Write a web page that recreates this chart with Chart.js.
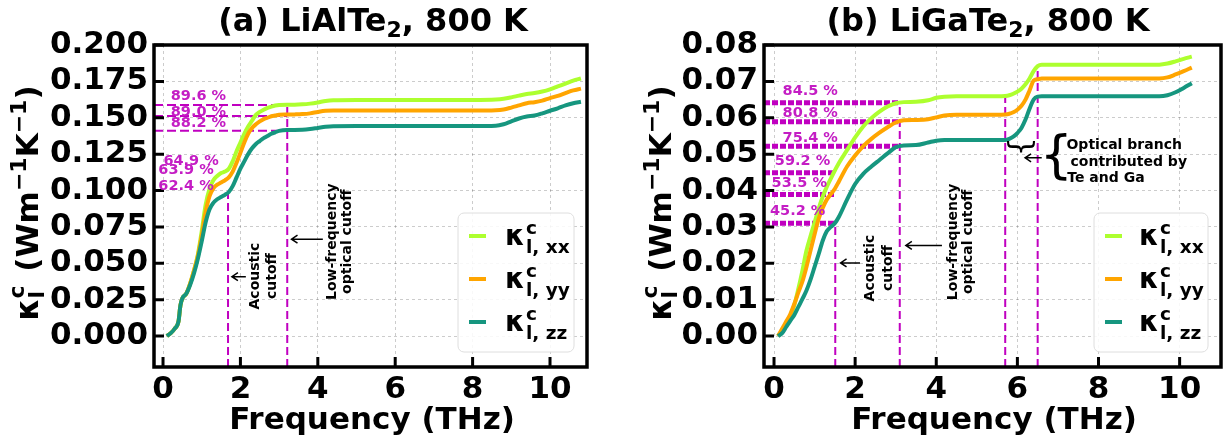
<!DOCTYPE html>
<html>
<head>
<meta charset="utf-8">
<script src="https://cdn.jsdelivr.net/npm/chart.js@4.4.0/dist/chart.umd.min.js"></script>
<style>
  body { margin: 0; background: #fff; }
  #fig { position: relative; width: 1225px; height: 440px; overflow: hidden; }
  #fig canvas { position: absolute; top: 0; }
</style>
</head>
<body>
<div id="fig">
  <canvas id="panelA" width="605" height="440" style="left:0"></canvas>
  <canvas id="panelB" width="620" height="440" style="left:605px"></canvas>
</div>
<script>
// ---- data ----
const xTicks = [0, 2, 4, 6, 8, 10];
const yTicksA = [0, 0.025, 0.05, 0.075, 0.1, 0.125, 0.15, 0.175, 0.2];
const yTicksB = [0, 0.01, 0.02, 0.03, 0.04, 0.05, 0.06, 0.07, 0.08];
const legendKeys = ['xx', 'yy', 'zz'];

// (a) LiAlTe2, cumulative kappa vs frequency
const freqA = [0.1, 0.2, 0.3, 0.4, 0.45, 0.5, 0.6, 0.7, 0.8, 0.9,
  1.0, 1.1, 1.2, 1.3, 1.4, 1.5, 1.6, 1.7, 1.8, 1.9,
  2.0, 2.1, 2.2, 2.3, 2.4, 2.5, 2.6, 2.7, 2.8, 2.9,
  3.0, 3.2, 3.4, 3.6, 3.8, 4.0, 4.2, 4.4, 5.0, 6.0, 7.0, 8.0,
  8.6, 8.8, 9.0, 9.2, 9.4, 9.6, 9.8, 10.0, 10.2, 10.4, 10.6, 10.8];
const kxxA = [0.000, 0.002, 0.005, 0.010, 0.021, 0.026, 0.029, 0.036, 0.045, 0.056,
  0.072, 0.090, 0.101, 0.107, 0.110, 0.112, 0.113, 0.115, 0.120, 0.127,
  0.133, 0.139, 0.144, 0.148, 0.152, 0.154, 0.1555, 0.1568, 0.1577, 0.1584,
  0.1588, 0.1590, 0.1590, 0.1592, 0.1597, 0.1605, 0.1615, 0.1620, 0.1622, 0.1622, 0.1622, 0.1622,
  0.1625, 0.1630, 0.1640, 0.1652, 0.1663, 0.1670, 0.1680, 0.1695, 0.1715, 0.1735, 0.1755, 0.1770];
const kyyA = [0.000, 0.002, 0.005, 0.010, 0.021, 0.026, 0.029, 0.036, 0.045, 0.055,
  0.069, 0.085, 0.096, 0.1015, 0.104, 0.1055, 0.107, 0.109, 0.113, 0.119,
  0.126, 0.133, 0.139, 0.143, 0.1455, 0.1475, 0.149, 0.150, 0.151, 0.1515,
  0.152, 0.1522, 0.1523, 0.1525, 0.153, 0.154, 0.1548, 0.155, 0.155, 0.155, 0.155, 0.155,
  0.1552, 0.1557, 0.157, 0.1585, 0.160, 0.1607, 0.1618, 0.1635, 0.165, 0.167, 0.1688, 0.170];
const kzzA = [0.000, 0.002, 0.005, 0.010, 0.021, 0.026, 0.029, 0.035, 0.043, 0.053,
  0.065, 0.078, 0.087, 0.0915, 0.094, 0.0955, 0.097, 0.099, 0.103, 0.109,
  0.115, 0.120, 0.125, 0.129, 0.132, 0.134, 0.136, 0.1375, 0.139, 0.140,
  0.141, 0.1416, 0.1416, 0.1417, 0.1422, 0.143, 0.1438, 0.1442, 0.1443, 0.1443, 0.1443, 0.1443,
  0.1445, 0.1455, 0.1475, 0.1495, 0.1508, 0.1515, 0.153, 0.1548, 0.1565, 0.1585, 0.160, 0.161];

// (b) LiGaTe2
const freqB = [0.1, 0.2, 0.3, 0.4, 0.5, 0.6, 0.7, 0.8, 0.9, 1.0,
  1.1, 1.2, 1.3, 1.4, 1.5, 1.6, 1.8, 2.0, 2.2, 2.4,
  2.6, 2.8, 3.0, 3.2, 3.5, 3.8, 4.0, 4.2, 4.5, 5.0,
  5.5, 5.7, 5.8, 5.9, 6.0, 6.1, 6.2, 6.3, 6.4, 6.5,
  6.6, 7.0, 8.0, 9.0, 9.5, 9.7, 9.9, 10.1, 10.3];
const kxxB = [0.0000, 0.0015, 0.0035, 0.0055, 0.0085, 0.0130, 0.0180, 0.0235, 0.0275, 0.0312,
  0.0350, 0.0383, 0.0410, 0.0433, 0.0455, 0.0476, 0.0511, 0.0546, 0.0576, 0.0599,
  0.0617, 0.0631, 0.0640, 0.0643, 0.0644, 0.0648, 0.0655, 0.0658, 0.0659, 0.0659,
  0.0659, 0.0660, 0.0662, 0.0666, 0.0672, 0.0680, 0.0692, 0.0708, 0.0728, 0.0742,
  0.0746, 0.0746, 0.0746, 0.0746, 0.0746, 0.0749, 0.0755, 0.0762, 0.0768];
const kyyB = [0.0000, 0.0020, 0.0040, 0.0060, 0.0088, 0.0120, 0.0150, 0.0190, 0.0235, 0.0280,
  0.0322, 0.0352, 0.0375, 0.0390, 0.0405, 0.0425, 0.0466, 0.0496, 0.0522, 0.0542,
  0.0559, 0.0574, 0.0587, 0.0593, 0.0594, 0.0596, 0.0601, 0.0606, 0.0608, 0.0608,
  0.0608, 0.0609, 0.0611, 0.0615, 0.0622, 0.0633, 0.0650, 0.0675, 0.0702, 0.0706,
  0.0708, 0.0708, 0.0708, 0.0708, 0.0708, 0.0711, 0.0719, 0.0728, 0.0738];
const kzzB = [0.0000, 0.0008, 0.0025, 0.0042, 0.0058, 0.0080, 0.0102, 0.0125, 0.0155, 0.0190,
  0.0225, 0.0262, 0.0288, 0.0300, 0.0310, 0.0328, 0.0375, 0.0418, 0.0446, 0.0466,
  0.0484, 0.0502, 0.0519, 0.0524, 0.0525, 0.0532, 0.0537, 0.0539, 0.0539, 0.0539,
  0.0539, 0.0539, 0.0542, 0.0548, 0.0558, 0.0572, 0.0595, 0.0625, 0.0650, 0.0658,
  0.0659, 0.0659, 0.0659, 0.0659, 0.0659, 0.0662, 0.0670, 0.0682, 0.0695];

// cutoffs (THz) and where the dashed markers end
const cutoffsA = [1.68, 3.21];
const cutoffTopsA = [0.099, 0.1588];
const opticalLevelsA = [0.1588, 0.1512, 0.1411];
const shareTextA = ['89.6 %', '89.0 %', '88.2 %', '64.9 %', '63.9 %', '62.4 %'];

const cutoffsB = [1.51, 3.1, 5.7, 6.5];
const cutoffTopsB = [0.031, 0.0641, 0.0658, 0.0744];
const opticalLevelsB = [0.0641, 0.0589, 0.0522];
const acousticLevelsB = [0.0449, 0.0389, 0.031];
const shareTextB = ['84.5 %', '80.8 %', '75.4 %', '59.2 %', '53.5 %', '45.2 %'];

// ---- styling ----
const FAMILY = '"DejaVu Sans", sans-serif';
const MAGENTA = '#c000c0';
const LABEL_MAGENTA = '#c41dc4';
const COLORS = ['#adff2f', '#ffa500', '#16967f'];
const GRID = 'rgba(0,0,0,0.2)';

const font = (size, weight = 'bold') => `${weight} ${size}px ${FAMILY}`;

function partWidth(ctx, p) {
  ctx.font = font(p.size);
  if (p.stack) return Math.max(...p.stack.map(s => ctx.measureText(s).width));
  return ctx.measureText(p.t).width;
}

// draws text made of pieces with their own size / baseline shift
function drawRich(ctx, parts, x, y, align) {
  const total = parts.reduce((s, p) => s + partWidth(ctx, p) + (p.gap || 0), 0);
  let cx = align === 'center' ? x - total / 2 : x;
  ctx.textAlign = 'left';
  ctx.textBaseline = 'alphabetic';
  parts.forEach(p => {
    ctx.font = font(p.size);
    if (p.stack) {
      ctx.fillText(p.stack[0], cx, y + p.up);
      ctx.fillText(p.stack[1], cx, y + p.down);
    } else {
      ctx.fillText(p.t, cx, y + (p.dy || 0));
    }
    cx += partWidth(ctx, p) + (p.gap || 0);
  });
}

// left-pointing arrow with an open head
function arrow(ctx, x1, x2, y) {
  ctx.save();
  ctx.strokeStyle = '#000';
  ctx.lineWidth = 1.5;
  ctx.beginPath();
  ctx.moveTo(x1, y); ctx.lineTo(x2, y);
  ctx.moveTo(x2 + 6, y - 4); ctx.lineTo(x2, y); ctx.lineTo(x2 + 6, y + 4);
  ctx.stroke();
  ctx.restore();
}

const yTitle = [
  { t: 'κ', size: 31 },
  { stack: ['c', 'l'], size: 22, up: -14, down: 6, gap: 3 },
  { t: ' (Wm', size: 31 },
  { t: '−1', size: 22, dy: -12 },
  { t: 'K', size: 31 },
  { t: '−1', size: 22, dy: -12 },
  { t: ')', size: 31 }
];

function drawLegend(ctx, chart, spec) {
  const a = chart.chartArea;
  const w = spec.legendW, h = 139;
  const bx = a.right - 13 - w, by = a.top + 168;
  ctx.save();
  ctx.beginPath();
  ctx.roundRect(bx, by, w, h, 6);
  ctx.fillStyle = 'rgba(255,255,255,0.85)';
  ctx.fill();
  ctx.strokeStyle = '#dedede';
  ctx.lineWidth = 1;
  ctx.stroke();
  const curves = chart.data.datasets.filter(d => d.kappa);
  curves.forEach((d, i) => {
    const ry = by + 23 + i * 43;
    ctx.strokeStyle = d.borderColor;
    ctx.lineWidth = 4;
    ctx.beginPath();
    ctx.moveTo(bx + 11, ry); ctx.lineTo(bx + 28, ry);
    ctx.stroke();
    ctx.fillStyle = '#000';
    drawRich(ctx, [
      { t: 'κ', size: 28, gap: 1 },
      { stack: ['c', 'l, ' + d.label], size: 18.5, up: -11, down: 8 }
    ], bx + spec.legendText, ry + 9);
  });
  ctx.restore();
}

function decor(spec) {
  return {
    id: 'decor',
    afterDatasetsDraw(chart) {
      const { ctx, chartArea: a, scales: { x, y } } = chart;
      const px = v => x.getPixelForValue(v);
      const py = v => y.getPixelForValue(v);
      ctx.save();
      ctx.strokeStyle = '#000';
      ctx.lineWidth = 3.5;
      ctx.strokeRect(a.left, a.top, a.right - a.left, a.bottom - a.top);
      // inward tick marks
      ctx.lineWidth = 3;
      ctx.beginPath();
      x.ticks.forEach(t => { ctx.moveTo(px(t.value), a.bottom); ctx.lineTo(px(t.value), a.bottom - 10); });
      y.ticks.forEach(t => { ctx.moveTo(a.left, py(t.value)); ctx.lineTo(a.left + 10, py(t.value)); });
      ctx.stroke();

      // percentage labels
      ctx.fillStyle = LABEL_MAGENTA;
      ctx.font = font(14.5);
      ctx.textAlign = 'left';
      ctx.textBaseline = 'middle';
      spec.shareText.forEach((txt, i) => {
        const p = spec.sharePos[i];
        ctx.fillText(txt, px(p[0]), py(p[1]));
      });

      // rotated cutoff notes
      ctx.fillStyle = '#000';
      ctx.font = font(14);
      ctx.textAlign = 'center';
      spec.notes.forEach(n => {
        ctx.save();
        ctx.translate(px(n.x), py(n.y));
        ctx.rotate(-Math.PI / 2);
        n.lines.forEach((s, i) => ctx.fillText(s, 0, (i - (n.lines.length - 1) / 2) * n.gap));
        ctx.restore();
      });
      spec.arrows.forEach(r => arrow(ctx, px(r.x1), px(r.x2), py(r.y)));
      if (spec.extra) spec.extra(ctx, px, py);
      drawLegend(ctx, chart, spec);
      ctx.restore();
    },
    afterDraw(chart) {
      const ctx = chart.ctx;
      ctx.save();
      ctx.fillStyle = '#000';
      drawRich(ctx, spec.title, spec.titleX, 31, 'center');
      ctx.font = font(31);
      ctx.textAlign = 'center';
      ctx.textBaseline = 'alphabetic';
      ctx.fillText('Frequency (THz)', spec.xTitleX, 429);
      ctx.translate(spec.yTitleX, 203);
      ctx.rotate(-Math.PI / 2);
      drawRich(ctx, yTitle, 0, 0, 'center');
      ctx.restore();
    }
  };
}

const series = (xs, ys) => xs.map((x, i) => ({ x, y: ys[i] }));

function curves(xs, sets) {
  return sets.map((ys, i) => ({
    label: legendKeys[i],
    kappa: true,
    data: series(xs, ys),
    borderColor: COLORS[i],
    borderWidth: 4,
    pointRadius: 0,
    cubicInterpolationMode: 'monotone',
    order: 3 - i
  }));
}

function guide(points, width, dash) {
  return { data: points, borderColor: MAGENTA, borderWidth: width, borderDash: dash, pointRadius: 0, order: 5 };
}

function build(id, spec) {
  const tickFont = { family: FAMILY, size: 31, weight: 'bold' };
  return new Chart(document.getElementById(id), {
    type: 'line',
    data: { datasets: [...spec.guides, ...spec.curves] },
    options: {
      responsive: false,
      animation: false,
      events: [],
      layout: { padding: { top: 45, right: spec.padRight, left: 0, bottom: 0 } },
      plugins: { legend: { display: false }, tooltip: { enabled: false } },
      scales: {
        x: {
          type: 'linear', min: spec.xMin, max: spec.xMax,
          afterBuildTicks: s => { s.ticks = xTicks.map(value => ({ value })); },
          afterFit: s => { s.height = 73; },
          ticks: { font: tickFont, color: '#000', padding: 4, autoSkip: false, maxRotation: 0, callback: v => String(v) },
          grid: { color: GRID, lineWidth: 1, drawTicks: false },
          border: { display: false, dash: [3, 3] }
        },
        y: {
          type: 'linear', min: spec.yMin, max: spec.yMax,
          afterBuildTicks: s => { s.ticks = spec.yTicks.map(value => ({ value })); },
          afterFit: s => { s.width = spec.yAxisW; },
          ticks: { font: tickFont, color: '#000', padding: 6, autoSkip: false, callback: v => v.toFixed(spec.decimals) },
          grid: { color: GRID, lineWidth: 1, drawTicks: false },
          border: { display: false, dash: [3, 3] }
        }
      }
    },
    plugins: [decor(spec)]
  });
}

// ---- panel (a) ----
const xMinA = -0.233, yMinA = -0.0213;
build('panelA', {
  xMin: xMinA, xMax: 10.956, yMin: yMinA, yMax: 0.2, yTicks: yTicksA, decimals: 3,
  padRight: 18, yAxisW: 154,
  curves: curves(freqA, [kxxA, kyyA, kzzA]),
  guides: [
    ...opticalLevelsA.map(l => guide([{ x: xMinA, y: l }, { x: cutoffsA[1], y: l }], 2, [9, 4])),
    ...cutoffsA.map((c, i) => guide([{ x: c, y: yMinA }, { x: c, y: cutoffTopsA[i] }], 2, [8, 4]))
  ],
  shareText: shareTextA,
  sharePos: [[0.2, 0.165], [0.2, 0.154], [0.2, 0.1464], [0.01, 0.1203], [-0.12, 0.1141], [-0.12, 0.1031]],
  notes: [
    { lines: ['Acoustic', 'cutoff'], x: 2.60, y: 0.0412, gap: 17 },
    { lines: ['Low-frequency', 'optical cutoff'], x: 4.57, y: 0.0648, gap: 15.5 }
  ],
  arrows: [{ x1: 2.14, x2: 1.78, y: 0.0408 }, { x1: 4.13, x2: 3.32, y: 0.0665 }],
  legendW: 116, legendText: 47,
  title: [{ t: '(a) LiAlTe', size: 32 }, { t: '2', size: 22, dy: 6 }, { t: ', 800 K', size: 32 }],
  titleX: 373, xTitleX: 372, yTitleX: 38
});

// ---- panel (b) ----
const xMinB = -0.247, yMinB = -0.0085;
build('panelB', {
  xMin: xMinB, xMax: 11.02, yMin: yMinB, yMax: 0.08, yTicks: yTicksB, decimals: 2,
  padRight: 4, yAxisW: 159,
  curves: curves(freqB, [kxxB, kyyB, kzzB]),
  guides: [
    ...opticalLevelsB.map(l => guide([{ x: xMinB, y: l }, { x: cutoffsB[1], y: l }], 5, [6, 2])),
    ...acousticLevelsB.map(l => guide([{ x: xMinB, y: l }, { x: cutoffsB[0], y: l }], 5, [6, 2])),
    ...cutoffsB.map((c, i) => guide([{ x: c, y: yMinB }, { x: c, y: cutoffTopsB[i] }], 2, [8, 4]))
  ],
  shareText: shareTextB,
  sharePos: [[0.21, 0.0672], [0.21, 0.0612], [0.21, 0.0544], [0.02, 0.0481], [-0.06, 0.0420], [-0.10, 0.0344]],
  notes: [
    { lines: ['Acoustic', 'cutoff'], x: 2.59, y: 0.0187, gap: 18 },
    { lines: ['Low-frequency', 'optical cutoff'], x: 4.61, y: 0.0259, gap: 15.7 }
  ],
  arrows: [{ x1: 2.12, x2: 1.64, y: 0.0201 }, { x1: 4.14, x2: 3.25, y: 0.0249 }, { x1: 6.60, x2: 6.19, y: 0.049 }],
  extra(ctx, px, py) {
    ctx.fillStyle = '#000';
    ctx.textAlign = 'center';
    ctx.textBaseline = 'middle';
    // small brace under the optical step
    ctx.save();
    ctx.translate(px(6.05), py(0.052));
    ctx.rotate(Math.PI / 2);
    ctx.font = font(30, 'normal');
    ctx.fillText('}', 0, 0);
    ctx.restore();
    ctx.font = font(52, 'normal');
    ctx.fillText('{', px(6.96), py(0.0489));
    ctx.font = font(14);
    ctx.textAlign = 'left';
    ctx.fillText('Optical branch', px(7.21), py(0.0525));
    ctx.fillText('contributed by', px(7.31), py(0.0478));
    ctx.fillText('Te and Ga', px(7.23), py(0.0434));
  },
  legendW: 114, legendText: 45,
  title: [{ t: '(b) LiGaTe', size: 32 }, { t: '2', size: 22, dy: 6 }, { t: ', 800 K', size: 32 }],
  titleX: 383, xTitleX: 389, yTitleX: 66
});
</script>
</body>
</html>
